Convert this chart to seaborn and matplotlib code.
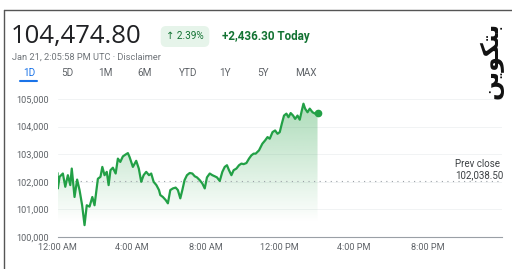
import numpy as np
import pandas as pd
import matplotlib
matplotlib.use("Agg")
import matplotlib.pyplot as plt
import seaborn as sns

# intraday BTC price (hours after midnight UTC)
hours = [0.00, 0.02, 0.11, 0.29, 0.42, 0.56, 0.69, 0.77, 0.92, 1.06, 1.19, 1.33, 1.46,
         1.58, 1.73, 1.88, 2.00, 2.18, 2.32, 2.42, 2.54, 2.66, 2.76, 2.86, 2.99, 3.14,
         3.26, 3.39, 3.53, 3.68, 3.80, 3.89, 4.07, 4.25, 4.39, 4.52, 4.65, 4.79, 4.94,
         5.06, 5.19, 5.34, 5.48, 5.55, 5.69, 5.84, 5.96, 6.09, 6.23, 6.38, 6.50, 6.63,
         6.74, 6.86, 6.99, 7.14, 7.28, 7.41, 7.53, 7.68, 7.82, 7.95, 8.07, 8.22, 8.36,
         8.49, 8.61, 8.76, 8.90, 9.03, 9.15, 9.26, 9.39, 9.51, 9.66, 9.80, 9.93, 10.05,
         10.20, 10.34, 10.47, 10.59, 10.70, 10.88, 11.06, 11.21, 11.34, 11.46, 11.61,
         11.75, 11.88, 12.00, 12.11, 12.23, 12.36, 12.47, 12.59, 12.72, 12.83, 12.96,
         13.08, 13.19, 13.28, 13.37, 13.50, 13.62, 13.77, 13.91, 14.04]
price = [102320, 101760, 102180, 102300, 101820, 102240, 101880, 102480, 101450, 102080,
         101700, 101150, 100430, 101150, 101100, 101450, 101150, 102110, 102180, 102540,
         102240, 102360, 101880, 102420, 102510, 102300, 102840, 102720, 102920, 102990,
         103040, 102900, 102540, 102760, 102480, 102000, 102240, 102360, 102240, 102300,
         102000, 101880, 101700, 101520, 101450, 101340, 101220, 101700, 101760, 101790,
         101700, 101400, 101700, 102060, 102240, 102320, 102300, 102200, 102160, 102060,
         101940, 101760, 102160, 102300, 102240, 102200, 102160, 102030, 102360, 102540,
         102600, 102420, 102240, 102420, 102480, 102600, 102660, 102640, 102680, 102840,
         102960, 103020, 103020, 103140, 103380, 103500, 103620, 103560, 103800, 103860,
         103740, 103800, 104100, 104400, 104470, 104340, 104490, 104400, 104280, 104400,
         104250, 104580, 104830, 104650, 104520, 104650, 104520, 104470, 104490]

prev_close = 102038.50
tick_hours = [0, 4, 8, 12, 16, 20]
tick_labels = ["12:00 AM", "4:00 AM", "8:00 AM", "12:00 PM", "4:00 PM", "8:00 PM"]
y_ticks = [100000, 101000, 102000, 103000, 104000, 105000]
ranges = ["1D", "5D", "1M", "6M", "YTD", "1Y", "5Y", "MAX"]

df = pd.DataFrame({"hour": hours, "price": price})

sns.set_theme(style="white")
plt.rcParams["font.family"] = ["Roboto", "DejaVu Sans"]

W, H = 512, 269
fig = plt.figure(figsize=(W / 100, H / 100), dpi=100)
fig.patch.set_facecolor("white")

def fx(px):
    return px / W

def fy(py):
    return 1 - py / H

ax = fig.add_axes([fx(57.5), fy(237), fx(502) - fx(57.5), fy(99) - fy(237)])

green = "#22a046"

# gradient fill under the line
grad = np.zeros((100, 1, 4))
grad[:, 0, :3] = matplotlib.colors.to_rgb("#34a853")
grad[:, 0, 3] = np.clip(np.linspace(0.42, -0.05, 100), 0, None)
im = ax.imshow(grad, aspect="auto", extent=(0, hours[-1], 100000, 105000),
               origin="upper", zorder=1)
poly = ax.fill_between(df["hour"], df["price"], 100000, color="none", lw=0)
im.set_clip_path(poly.get_paths()[0], transform=ax.transData)

sns.lineplot(data=df, x="hour", y="price", ax=ax, color=green, lw=1.6, zorder=3)
ax.plot(hours[-1], price[-1], "o", color=green, ms=4.5, zorder=4, clip_on=False)

ax.axhline(prev_close, color="#9aa0a6", lw=0.8, ls=(0, (1, 4)), zorder=2)

ax.set_xlim(0, 24)
ax.set_ylim(100000, 105000)
ax.set_yticks(y_ticks)
ax.set_yticklabels([f"{v:,}" for v in y_ticks])
ax.set_xticks(tick_hours)
ax.set_xticklabels(tick_labels)
ax.set_xlabel("")
ax.set_ylabel("")
ax.grid(axis="y", color="#f1f3f4", lw=0.7)
ax.set_axisbelow(True)
for s in ["top", "right", "left"]:
    ax.spines[s].set_visible(False)
ax.spines["bottom"].set_color("#9aa0a6")
ax.spines["bottom"].set_linewidth(0.8)
ax.tick_params(axis="x", length=2, width=0.7, color="#9aa0a6", labelsize=6.6,
               labelcolor="#5f6368", pad=3, direction="inout")
ax.tick_params(axis="y", length=0, labelsize=6.6, labelcolor="#5f6368", pad=6)

# prev close label
fig.text(fx(455), fy(164), "Prev close", fontsize=7, color="#3c4043", va="center")
fig.text(fx(455), fy(175), f"{prev_close:,.2f}", fontsize=7, color="#3c4043", va="center")

# header
fig.text(fx(11), fy(36), "104,474.80", fontsize=18.5, color="#202124", va="center",
         family=["Open Sans", "DejaVu Sans"])
fig.text(fx(185), fy(36.5), "↑ 2.39%", fontsize=7.2, color="#137333", va="center",
         ha="center", bbox=dict(boxstyle="round,pad=0.55", fc="#e6f4ea", ec="none"))
fig.text(fx(222), fy(36.5), "+2,436.30 Today", fontsize=8.4, color="#137333",
         va="center", fontweight="bold")
fig.text(fx(12), fy(57), "Jan 21, 2:05:58 PM UTC · Disclaimer", fontsize=6.7,
         color="#70757a", va="center")

tab_x = [29, 67, 105, 145, 188, 225, 263, 306]
for label, x in zip(ranges, tab_x):
    fig.text(fx(x), fy(73), label, fontsize=7.2, ha="center", va="center",
             color="#1a73e8" if label == "1D" else "#5f6368")
fig.add_artist(plt.Line2D([fx(20), fx(37)], [fy(80.5), fy(80.5)], color="#1a73e8",
                          lw=1.5, transform=fig.transFigure))

# frame lines
fig.add_artist(plt.Line2D([fx(4), fx(512)], [fy(9.5), fy(9.5)], color="#555555",
                          lw=1.0, transform=fig.transFigure))
fig.add_artist(plt.Line2D([fx(4), fx(4)], [fy(9.5), fy(269)], color="#555555",
                          lw=1.0, transform=fig.transFigure))

# logo (Arabic "بتكوين", shaped forms in visual order)
fig.text(fx(491), fy(60), "\uFEE6\uFEF3\uFEEE\uFEDC\uFE98\uFE91", rotation=90,
         fontsize=17, fontweight="bold", color="#111111", ha="center", va="center",
         family=["DejaVu Sans"])

fig.savefig("out.png", dpi=100)
